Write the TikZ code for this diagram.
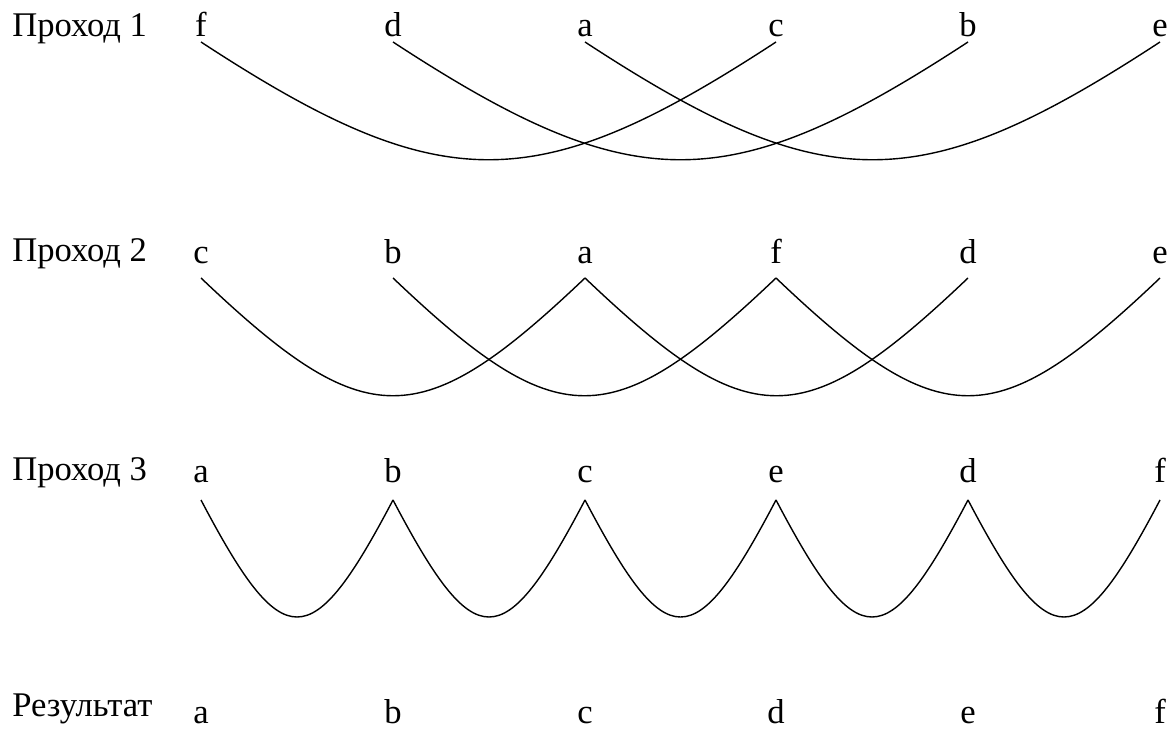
\documentclass[tikz,border=0pt]{standalone}
\usepackage{fontspec}
\setmainfont{Liberation Serif}

\begin{document}
\begin{tikzpicture}[
  x=0.5pt, y=-0.5pt,
  font=\fontsize{17.3}{21}\selectfont,
  rowname/.style={anchor=base west, inner sep=0pt},
  letter/.style={anchor=base, inner sep=0pt},
  arc/.style={line width=0.7pt}
]
\useasboundingbox (0,0) rectangle (1172,738);

% pass 1
\node[rowname] (pass1) at (12,37) {Проход 1};
\node[letter] (f1) at (201,37) {f};
\node[letter] (d1) at (393,37) {d};
\node[letter] (a1) at (585,37) {a};
\node[letter] (c1) at (776,37) {c};
\node[letter] (b1) at (968,37) {b};
\node[letter] (e1) at (1160,37) {e};

\draw[arc] ([yshift=-2.5pt]f1.base) .. controls +(240,157) and +(-240,157) .. ([yshift=-2.5pt]c1.base);
\draw[arc] ([yshift=-2.5pt]d1.base) .. controls +(240,157) and +(-240,157) .. ([yshift=-2.5pt]b1.base);
\draw[arc] ([yshift=-2.5pt]a1.base) .. controls +(240,157) and +(-240,157) .. ([yshift=-2.5pt]e1.base);

% pass 2
\node[rowname] (pass2) at (12,261) {Проход 2};
\node[letter] (c2) at (201,263) {c};
\node[letter] (b2) at (393,263) {b};
\node[letter] (a2) at (585,263) {a};
\node[letter] (f2) at (776,263) {f};
\node[letter] (d2) at (968,263) {d};
\node[letter] (e2) at (1160,263) {e};

\draw[arc] ([yshift=-7.5pt]c2.base) .. controls +(165,157) and +(-165,157) .. ([yshift=-7.5pt]a2.base);
\draw[arc] ([yshift=-7.5pt]b2.base) .. controls +(165,157) and +(-165,157) .. ([yshift=-7.5pt]f2.base);
\draw[arc] ([yshift=-7.5pt]a2.base) .. controls +(165,157) and +(-165,157) .. ([yshift=-7.5pt]d2.base);
\draw[arc] ([yshift=-7.5pt]f2.base) .. controls +(165,157) and +(-165,157) .. ([yshift=-7.5pt]e2.base);

% pass 3
\node[rowname] (pass3) at (12,480) {Проход 3};
\node[letter] (a3) at (201,482) {a};
\node[letter] (b3) at (393,482) {b};
\node[letter] (c3) at (585,482) {c};
\node[letter] (e3) at (776,482) {e};
\node[letter] (d3) at (968,482) {d};
\node[letter] (f3) at (1160,482) {f};

\draw[arc] ([yshift=-9pt]a3.base) .. controls +(82,156) and +(-82,156) .. ([yshift=-9pt]b3.base);
\draw[arc] ([yshift=-9pt]b3.base) .. controls +(82,156) and +(-82,156) .. ([yshift=-9pt]c3.base);
\draw[arc] ([yshift=-9pt]c3.base) .. controls +(82,156) and +(-82,156) .. ([yshift=-9pt]e3.base);
\draw[arc] ([yshift=-9pt]e3.base) .. controls +(82,156) and +(-82,156) .. ([yshift=-9pt]d3.base);
\draw[arc] ([yshift=-9pt]d3.base) .. controls +(82,156) and +(-82,156) .. ([yshift=-9pt]f3.base);

% result
\node[rowname] (result) at (12,716) {Результат};
\node[letter] (a4) at (201,723) {a};
\node[letter] (b4) at (393,723) {b};
\node[letter] (c4) at (585,723) {c};
\node[letter] (d4) at (776,723) {d};
\node[letter] (e4) at (968,723) {e};
\node[letter] (f4) at (1160,723) {f};
\end{tikzpicture}
\end{document}
